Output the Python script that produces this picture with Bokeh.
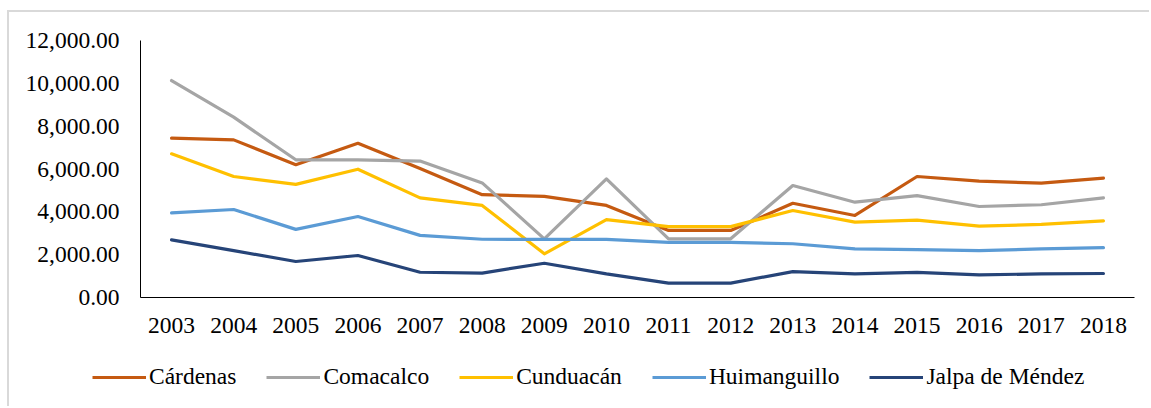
from bokeh.plotting import figure
from bokeh.models import FactorRange, Range1d, FixedTicker, NumeralTickFormatter, Legend, LegendItem
from bokeh.embed import file_html
from bokeh.resources import INLINE

years = [str(y) for y in range(2003, 2019)]
cardenas = [7440, 7360, 6200, 7200, 6020, 4800, 4720, 4300, 3130, 3130, 4400, 3830, 5650, 5430, 5340, 5570]
comacalco = [10130, 8420, 6430, 6430, 6370, 5350, 2740, 5540, 2740, 2740, 5230, 4450, 4760, 4250, 4330, 4650]
cunduacan = [6710, 5650, 5280, 5990, 4650, 4300, 2040, 3640, 3310, 3310, 4060, 3520, 3610, 3330, 3410, 3580]
huimanguillo = [3950, 4110, 3180, 3780, 2900, 2720, 2710, 2710, 2570, 2570, 2510, 2270, 2240, 2190, 2270, 2330]
jalpa = [2690, 2190, 1680, 1960, 1180, 1140, 1600, 1100, 670, 670, 1210, 1100, 1170, 1060, 1100, 1120]

names = ["Cárdenas", "Comacalco", "Cunduacán", "Huimanguillo", "Jalpa de Méndez"]
series = [cardenas, comacalco, cunduacan, huimanguillo, jalpa]
colors = ["#C55A11", "#A5A5A5", "#FFC000", "#5B9BD5", "#264478"]
y_ticks = [0, 2000, 4000, 6000, 8000, 10000, 12000]

FONT = "Liberation Serif"
BORDER = "2px solid #d9d9d9"

p = figure(width=1142, height=333, output_backend="svg", toolbar_location=None,
           x_range=FactorRange(*years, range_padding=0), y_range=Range1d(0, 12000),
           min_border_left=131, min_border_top=28, min_border_right=17, min_border_bottom=48)
p.styles = {"border-top": BORDER, "border-left": BORDER,
            "margin-left": "7px", "margin-top": "10px"}
p.outline_line_color = None
p.xgrid.grid_line_color = None
p.ygrid.grid_line_color = None

for name, vals, c in zip(names, series, colors):
    p.line(years, vals, line_color=c, line_width=3.2, line_join="round", line_cap="round")

for ax in (p.xaxis[0], p.yaxis[0]):
    ax.axis_line_color = "black"
    ax.axis_line_width = 1
    ax.major_tick_line_color = None
    ax.minor_tick_line_color = None
    ax.major_label_text_font = FONT
    ax.major_label_text_font_size = "23.5px"
    ax.major_label_text_color = "black"

p.yaxis[0].ticker = FixedTicker(ticks=y_ticks)
p.yaxis[0].formatter = NumeralTickFormatter(format="0,0.00")
p.yaxis[0].major_label_standoff = 15
p.xaxis[0].major_label_standoff = 14

# legend strip below the chart (separate root so it is not frame-aligned)
lg = figure(width=1142, height=63, output_backend="svg", toolbar_location=None,
            x_range=Range1d(0, 1), y_range=Range1d(0, 1), x_axis_type=None, y_axis_type=None,
            min_border_left=0, min_border_right=0, min_border_top=0, min_border_bottom=0)
lg.styles = {"border-left": BORDER, "margin-left": "7px"}
lg.outline_line_color = None
lg.xgrid.grid_line_color = None
lg.ygrid.grid_line_color = None

items = []
for name, c in zip(names, colors):
    # single off-range point: draws nothing, only supplies the legend swatch
    r = lg.line(x=[5], y=[5], line_color=c, line_width=3.2)
    items.append(LegendItem(label=name, renderers=[r]))

legend = Legend(items=items, orientation="horizontal", location=(83, 16),
                glyph_width=54, glyph_height=24, label_standoff=3, spacing=30,
                padding=0, margin=0, border_line_color=None, background_fill_alpha=0,
                label_text_font=FONT, label_text_font_size="23.5px", label_text_color="black",
                label_height=24)
lg.add_layout(legend, "center")

open("out.html", "w").write(file_html([p, lg], INLINE))
